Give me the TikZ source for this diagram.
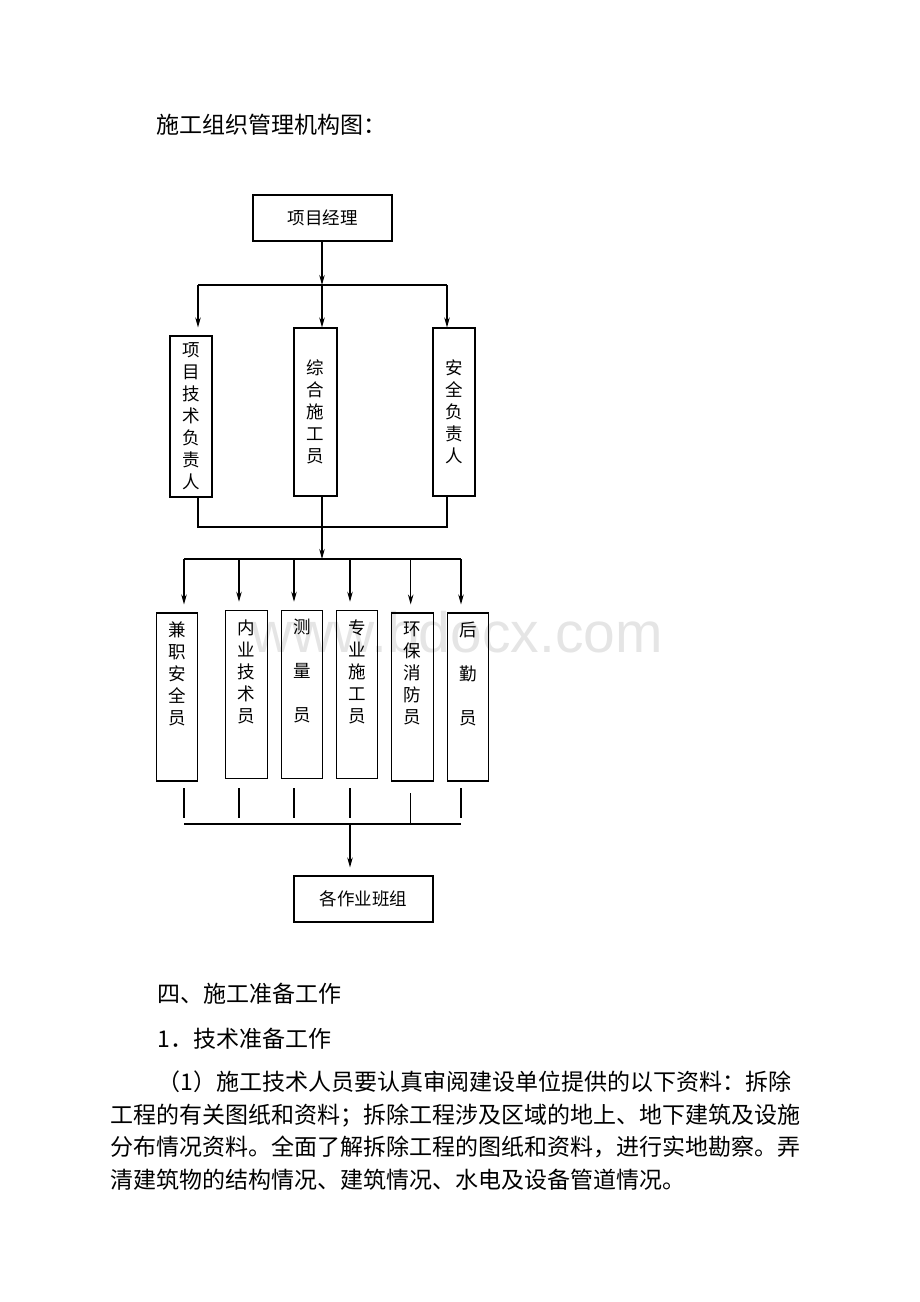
\documentclass[tikz,border=0pt]{standalone}
\usepackage{fontspec}
\newfontfamily\cjk{Noto Sans CJK SC}
\newfontfamily\marksf{Liberation Sans}
\usetikzlibrary{positioning,arrows.meta}

\begin{document}
\begin{tikzpicture}[x=1pt,y=-1pt,line width=1.1pt,
    box/.style={draw,rectangle,inner sep=0pt,align=center,
      font=\cjk\fontsize{17.5}{22}\selectfont},
    txt/.style={inner sep=0pt,align=center,font=\cjk\fontsize{17.5}{22}\selectfont},
    body/.style={inner sep=0pt,anchor=base west,font=\cjk\fontsize{23}{28}\selectfont},
    arr/.style={-{Stealth[length=10pt,width=5.5pt]}},
    wm/.style={inner sep=0pt,anchor=base,text=black!10,
      font=\marksf\fontsize{57}{60}\selectfont}]
  \useasboundingbox (0,0) rectangle (920,1302);

  \node[wm] (mark) at (457,652) {www.bdocx.com};

  \node[body] (title) at (156,133.7) {施工组织管理机构图：};

  \node[box,minimum width=139pt,minimum height=46pt] (pm) at (322.5,218) {项目经理};

  \node[box,minimum width=42pt,minimum height=161pt] (tech) at (191,416.5)
    {项\\目\\技\\术\\负\\责\\人};
  \node[box,minimum width=43pt,minimum height=168pt] (gen) at (315.5,412)
    {综\\合\\施\\工\\员};
  \node[box,minimum width=42pt,minimum height=168pt] (safe) at (454,412)
    {安\\全\\负\\责\\人};

  \coordinate (bus1) at (322,285);
  \coordinate (bus1l) at (198,285);
  \coordinate (bus1r) at (447,285);
  \coordinate (join) at (322,527);

  \draw[arr] (pm.south -| bus1) -- (bus1);
  \draw (bus1l) -- (bus1r);
  \draw[arr,shorten >=8pt] (bus1l) -- (bus1l |- tech.north);
  \draw[arr] (bus1) -- (bus1 |- gen.north);
  \draw[arr] (bus1r) -- (bus1r |- safe.north);
  \draw (tech.south -| bus1l) -- (bus1l |- join) -- (join -| bus1r) -- (safe.south -| bus1r);

  \coordinate (bus2) at (322,559);
  \coordinate (bus2l) at (184,559);
  \coordinate (bus2r) at (461,559);
  \draw[arr] (gen.south -| bus2) -- (bus2);
  \draw (bus2l) -- (bus2r);

  \foreach \n/\cx/\cy/\ax/\tk/\lbl in {
      1/177/697/184/788/{兼\\职\\安\\全\\员},
      2/246.3/694.3/239/788/{内\\业\\技\\术\\员},
      3/302/694.3/294/788/{测\\[22pt]量\\[22pt]员},
      4/357/694.3/350/788/{专\\业\\施\\工\\员},
      5/412.3/697/410.7/793/{环\\保\\消\\防\\员},
      6/468/697/461/788/{后\\[22pt]勤\\[22pt]员}} {
    \node[box,minimum width=41.7pt,minimum height=168pt] (b\n) at (\cx,\cy) {};
    \node[txt,below=9pt of b\n.north] (t\n) {\lbl};
    \coordinate (a\n) at (\ax,559);
    \coordinate (s\n) at (\ax,\tk);
    \draw[arr,shorten >=8pt] (a\n) -- (a\n |- b\n.north);
    \draw (s\n) -- ++(0,30);
  }

  \coordinate (bus3) at (350,824);
  \coordinate (bus3l) at (184,824);
  \coordinate (bus3r) at (461,824);
  \draw (bus3l) -- (bus3r);

  \node[box,minimum width=139pt,minimum height=46pt] (team) at (363.5,899) {各作业班组};
  \draw[arr,shorten >=8pt] (bus3) -- (bus3 |- team.north);

  \node[body] (sec) at (157,1002.7) {四、施工准备工作};
  \node[body] (sub) at (157,1047.7) {1．技术准备工作};
  \node[body] (p1) at (157,1090.7) {（1）施工技术人员要认真审阅建设单位提供的以下资料：拆除};
  \node[body] (p2) at (110,1123.2) {工程的有关图纸和资料；拆除工程涉及区域的地上、地下建筑及设施};
  \node[body] (p3) at (110,1155.7) {分布情况资料。全面了解拆除工程的图纸和资料，进行实地勘察。弄};
  \node[body] (p4) at (110,1188.2) {清建筑物的结构情况、建筑情况、水电及设备管道情况。};
\end{tikzpicture}
\end{document}
